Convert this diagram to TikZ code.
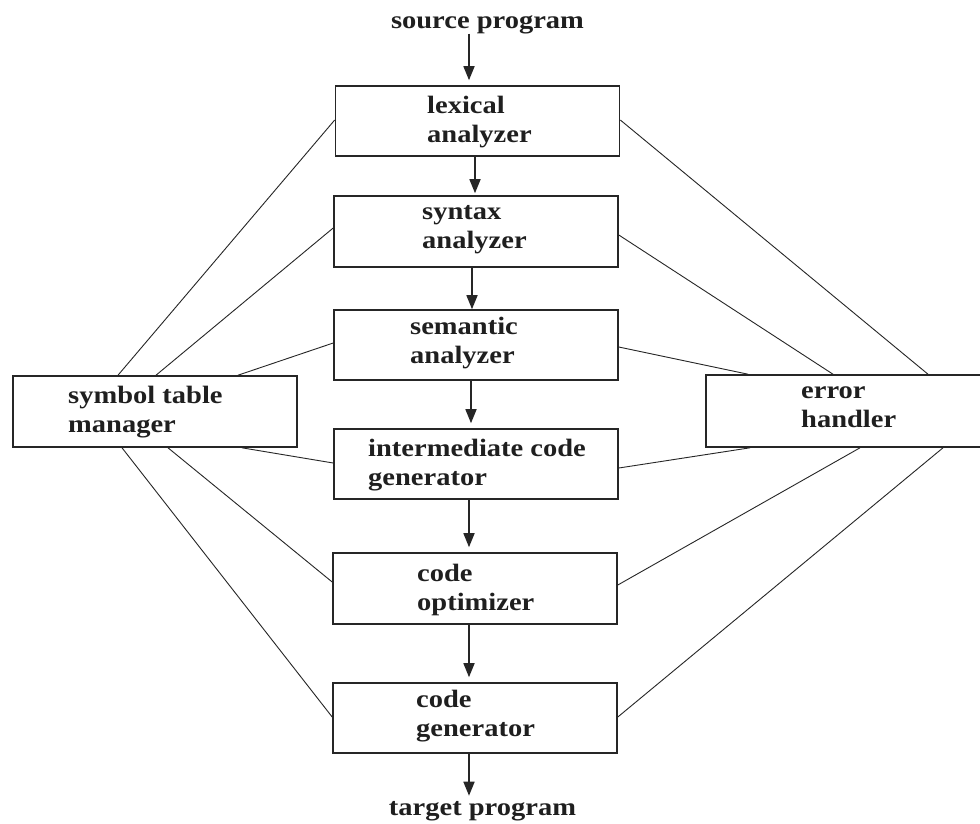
\documentclass[tikz,border=0pt]{standalone}
\usepackage{fontspec}
\setmainfont{Liberation Serif}[FakeStretch=1.14]
\usetikzlibrary{arrows.meta}
\newcommand\twolines[2]{\begin{tabular}[t]{@{}l@{}}#1\\#2\end{tabular}}
\begin{document}
\begin{tikzpicture}[x=1pt,y=-1pt,
  box/.style={draw=black!85, fill=white, line width=1.6pt, minimum width=284pt, minimum height=70pt, inner sep=0pt},
  lbl/.style={anchor=base west, inner sep=0pt, font=\fontsize{25}{29}\selectfont\bfseries, text=black!88},
  io/.style={anchor=base, inner sep=0pt, font=\fontsize{25}{29}\selectfont\bfseries, text=black!88},
  arr/.style={draw=black!85, line width=1.6pt, -{Triangle[length=14pt,width=11pt]}},
  link/.style={draw=black!85, line width=0.9pt}]
\path[use as bounding box, clip] (0,0) rectangle (980,823);
\fill[white] (0,0) rectangle (980,823);

% boxes
\node[box] (lex) at (477.5,121) {};
\node[box, minimum height=71pt] (syn) at (476,231.5) {};
\node[box] (sem) at (476,345) {};
\node[box] (int) at (476,464) {};
\node[box, minimum height=71pt] (opt) at (475,588.5) {};
\node[box] (gen) at (475,718) {};
\node[box, minimum height=71pt] (sym) at (155,411.5) {};
\node[box, minimum height=72pt] (err) at (848,411) {};

% labels
\node[lbl] (lexT) at (427,113) {\twolines{lexical}{analyzer}};
\node[lbl] (synT) at (422,219) {\twolines{syntax}{analyzer}};
\node[lbl] (semT) at (410,334) {\twolines{semantic}{analyzer}};
\node[lbl] (intT) at (368,456) {\twolines{intermediate code}{generator}};
\node[lbl] (optT) at (417,581) {\twolines{code}{optimizer}};
\node[lbl] (genT) at (416,707) {\twolines{code}{generator}};
\node[lbl] (symT) at (68,403) {\twolines{symbol table}{manager}};
\node[lbl] (errT) at (801,398) {\twolines{error}{handler}};
\node[io] (src) at (487.5,28) {source program};
\node[io] (tgt) at (482.5,815) {target program};

% links to symbol table manager
\draw[link] ([yshift=1pt]lex.west) -- ([xshift=-37pt]sym.north);
\draw[link] ([yshift=3.5pt]syn.west) -- ([xshift=1pt]sym.north);
\draw[link] ([yshift=2pt]sem.west) -- ([xshift=83pt]sym.north);
\draw[link] ([yshift=1pt]int.west) -- ([xshift=87pt]sym.south);
\draw[link] ([yshift=6.5pt]opt.west) -- ([xshift=13pt]sym.south);
\draw[link] ([yshift=1pt]gen.west) -- ([xshift=-33pt]sym.south);

% links to error handler
\draw[link] ([yshift=1pt]lex.east) -- ([xshift=80pt]err.north);
\draw[link] ([yshift=-3.5pt]syn.east) -- ([xshift=-15pt]err.north);
\draw[link] ([yshift=-2pt]sem.east) -- ([xshift=-100pt]err.north);
\draw[link] ([yshift=-4pt]int.east) -- ([xshift=-98pt]err.south);
\draw[link] ([yshift=3.5pt]opt.east) -- ([xshift=12pt]err.south);
\draw[link] ([yshift=1pt]gen.east) -- ([xshift=95pt]err.south);

% main flow
\draw[arr, shorten >=5pt] ([xshift=-18.5pt]src.south) -- ([xshift=-8.5pt]lex.north);
\draw[arr, shorten >=2pt] ([xshift=-2.5pt]lex.south) -- ([xshift=-1pt]syn.north);
\draw[arr] ([xshift=-4pt]syn.south) -- ([xshift=-4pt]sem.north);
\draw[arr, shorten >=5pt] ([xshift=-5pt]sem.south) -- ([xshift=-5pt]int.north);
\draw[arr, shorten >=5pt] ([xshift=-7pt]int.south) -- ([xshift=-6pt]opt.north);
\draw[arr, shorten >=5pt] ([xshift=-6pt]opt.south) -- ([xshift=-6pt]gen.north);
\draw[arr, shorten >=5pt] ([xshift=-6pt]gen.south) -- ([xshift=-13.5pt]tgt.north);
\end{tikzpicture}
\end{document}
